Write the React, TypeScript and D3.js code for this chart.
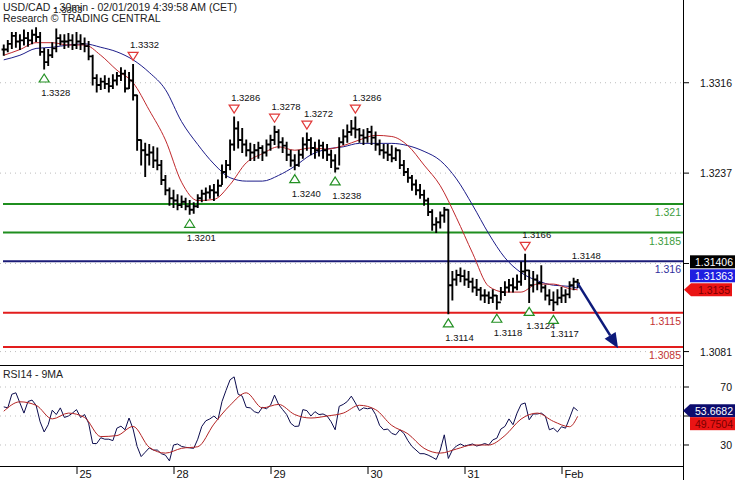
import { curveMonotoneX, line, scaleLinear } from 'd3';

const CHART_WIDTH = 735;
const CHART_HEIGHT = 480;
const PLOT_RIGHT = 683;
const MAIN = { top: 0, bottom: 365 };
const RSI_PANEL = { top: 366, bottom: 466 };
const FONT = '"Liberation Sans", Arial, sans-serif';

// hours counted from Jan 25 00:00, weekend removed (one bar per hour)
const FIRST_BAR_HOUR = -18;

const barHigh = [
  1.3349, 1.3353, 1.336, 1.336, 1.3358, 1.3362, 1.336, 1.3362, 1.3364, 1.336,
  1.3346, 1.3345, 1.3351, 1.3363, 1.3358, 1.3358, 1.3359, 1.3358, 1.336, 1.3358,
  1.3355, 1.3352, 1.334, 1.3323, 1.332, 1.3322, 1.332, 1.3323, 1.3325, 1.3329,
  1.3327, 1.3325, 1.3332, 1.3305, 1.3266, 1.3263, 1.3262, 1.326, 1.3259, 1.3248,
  1.3235, 1.3224, 1.3222, 1.3218, 1.3217, 1.3215, 1.3213, 1.3211, 1.3218, 1.3222,
  1.3224, 1.3226, 1.3227, 1.3231, 1.3244, 1.3248, 1.3266, 1.3286, 1.3282, 1.3276,
  1.3266, 1.3263, 1.3262, 1.3264, 1.3261, 1.3266, 1.327, 1.3278, 1.3275, 1.3268,
  1.3264, 1.3257, 1.3253, 1.3257, 1.3268, 1.3272, 1.3268, 1.3264, 1.3266, 1.3264,
  1.3262, 1.3257, 1.3253, 1.3268, 1.3275, 1.3279, 1.3283, 1.3286, 1.3276, 1.3275,
  1.3276, 1.3278, 1.3273, 1.3266, 1.3262, 1.3262, 1.3261, 1.3259, 1.3257, 1.3248,
  1.3241, 1.3235, 1.3231, 1.3227, 1.3222, 1.3215, 1.3205, 1.3198, 1.3203, 1.3207,
  1.3205, 1.3151, 1.3152, 1.3154, 1.3152, 1.3151, 1.3145, 1.3144, 1.3137, 1.3135,
  1.3133, 1.3135, 1.313, 1.3137, 1.3142, 1.3144, 1.3145, 1.3148, 1.3159, 1.3166,
  1.3152, 1.3151, 1.3148, 1.3156, 1.3139, 1.3135, 1.3133, 1.3135, 1.3137, 1.3135,
  1.3142, 1.3145, 1.3144,
];

const barLow = [
  1.334, 1.3343, 1.3346, 1.3347, 1.3345, 1.3349, 1.3348, 1.335, 1.3352, 1.334,
  1.3328, 1.3331, 1.3338, 1.3343, 1.3349, 1.3346, 1.3347, 1.3345, 1.3346, 1.3345,
  1.3343, 1.3336, 1.3314, 1.3308, 1.331, 1.3311, 1.3308, 1.3311, 1.3314, 1.3318,
  1.3308, 1.3311, 1.3301, 1.3257, 1.3244, 1.3234, 1.3244, 1.3242, 1.324, 1.3227,
  1.3218, 1.3209, 1.3207, 1.3205, 1.3207, 1.3205, 1.3201, 1.3202, 1.3207, 1.3212,
  1.3213, 1.3215, 1.3213, 1.3217, 1.3227, 1.3233, 1.324, 1.3257, 1.3259, 1.3255,
  1.3252, 1.3248, 1.3248, 1.325, 1.3248, 1.3252, 1.3257, 1.3262, 1.3259, 1.3255,
  1.3248, 1.3243, 1.324, 1.3243, 1.325, 1.3257, 1.3253, 1.325, 1.3252, 1.325,
  1.3248, 1.3242, 1.3238, 1.3244, 1.3262, 1.3264, 1.327, 1.3268, 1.3264, 1.3262,
  1.3264, 1.3262, 1.3257, 1.3253, 1.325, 1.3248, 1.3247, 1.3248, 1.3241, 1.3235,
  1.3229, 1.3222, 1.3218, 1.3215, 1.3209, 1.32, 1.3187, 1.3185, 1.3189, 1.3194,
  1.3114, 1.3126, 1.3139, 1.3142, 1.3139, 1.3137, 1.3133, 1.313, 1.3126, 1.3124,
  1.3123, 1.3124, 1.3118, 1.3126, 1.313, 1.3133, 1.3133, 1.3135, 1.3139, 1.3144,
  1.3124, 1.3133, 1.3135, 1.3133, 1.3126, 1.3122, 1.3117, 1.3122, 1.3124, 1.3124,
  1.3128, 1.3135, 1.3137,
];

const barClose = [
  1.3345, 1.335, 1.3357, 1.3352, 1.3353, 1.3355, 1.3353, 1.3358, 1.3356, 1.3343,
  1.3334, 1.334, 1.3346, 1.3355, 1.3352, 1.3352, 1.3353, 1.3349, 1.3352, 1.335,
  1.3348, 1.3339, 1.332, 1.3314, 1.3317, 1.3315, 1.3313, 1.3318, 1.3322, 1.3324,
  1.3311, 1.3318, 1.3305, 1.3266, 1.3257, 1.3253, 1.3255, 1.3248, 1.3244, 1.3231,
  1.3222, 1.3215, 1.3213, 1.3209, 1.3212, 1.3208, 1.3205, 1.3208, 1.3215, 1.3219,
  1.322, 1.3222, 1.322, 1.3226, 1.3238, 1.3244, 1.3262, 1.3276, 1.3266, 1.3262,
  1.3257, 1.3255, 1.3257, 1.3259, 1.3255, 1.3262, 1.3266, 1.3273, 1.3264, 1.3261,
  1.3253, 1.3248, 1.3244, 1.3253, 1.3262, 1.3266, 1.3259, 1.3257, 1.3261, 1.3257,
  1.3253, 1.3248, 1.3241, 1.3264, 1.3269, 1.3273, 1.3276, 1.3275, 1.327, 1.3268,
  1.3273, 1.3268, 1.3262, 1.3257, 1.3255, 1.3253, 1.325, 1.3257, 1.3244, 1.3238,
  1.3233, 1.3227, 1.3222, 1.3218, 1.3213, 1.3203, 1.3192, 1.3194, 1.32, 1.3205,
  1.3139, 1.3144, 1.3148, 1.3147, 1.3144, 1.3142, 1.3137, 1.3135, 1.313, 1.313,
  1.3128, 1.313, 1.3124, 1.3133, 1.3137, 1.3139, 1.3137, 1.3142, 1.3151, 1.3152,
  1.3139, 1.3144, 1.3141, 1.3137, 1.313, 1.3126, 1.3124, 1.3128, 1.313, 1.3131,
  1.3139, 1.3142, 1.31406,
];

const rsiValues = [
  56.3, 55.6, 65, 66, 59, 52, 60, 61, 57.4, 46,
  39, 44, 54, 51, 55.6, 49, 50, 52, 54.4, 49,
  51, 45, 31, 31, 35, 34, 34, 33, 41.6, 43,
  40.5, 48.6, 41, 29, 22, 25, 28, 26.5, 26.5, 24,
  23, 19, 30, 30.7, 29, 28.4, 28, 27.7, 34, 42.8,
  46.7, 48, 50, 47.4, 60, 67.7, 75, 77, 65, 63.7,
  56, 55.6, 53, 52, 56, 55, 57.4, 64.4, 58, 54.4,
  51, 45, 42.8, 43, 54.4, 53.7, 50, 53, 51, 51.4,
  50, 46, 40.5, 56.7, 58, 60, 63.7, 59, 53.7, 55.6,
  55, 55.6, 51, 43.5, 40.5, 41, 38, 37, 40.5, 38,
  33, 29, 26.5, 24, 24, 23, 21.6, 20, 26.5, 37,
  20.7, 26.5, 29.3, 30.7, 29.3, 30, 30.7, 29.3, 30, 31,
  30, 33.5, 34.7, 41, 42.8, 48, 44, 52, 58, 59,
  47.4, 51.4, 51.4, 52, 50, 40.5, 41.6, 39, 42.6, 41.6,
  48.6, 56, 53.6682,
];

const maHours = [
  -18, -14, -10, -6, -2, 2, 6, 10, 14, 18, 22, 26, 30, 34, 38, 42, 46, 50, 54,
  58, 62, 66, 70, 74, 78, 82, 86, 90, 94, 98, 102, 106, 110, 114, 118, 122, 124,
];
const fastMa = [
  1.334, 1.3345, 1.3351, 1.3351, 1.3349, 1.3349, 1.334, 1.3327, 1.3316, 1.3292,
  1.3266, 1.3229, 1.3213, 1.3214, 1.3227, 1.3246, 1.3254, 1.326, 1.3257, 1.3259,
  1.3258, 1.3261, 1.3266, 1.327, 1.3269, 1.3261, 1.3244, 1.3226, 1.3198, 1.3167,
  1.3138, 1.3133, 1.3133, 1.314, 1.314, 1.3136, 1.3135,
];
const slowMa = [
  1.3336, 1.334, 1.3346, 1.3347, 1.3349, 1.335, 1.3347, 1.3343, 1.3336, 1.3325,
  1.331, 1.3282, 1.3262, 1.3245, 1.3233, 1.323, 1.323, 1.3235, 1.3243, 1.3253,
  1.3258, 1.326, 1.3263, 1.3263, 1.3263, 1.3261, 1.3256, 1.3248, 1.3232, 1.3209,
  1.3184, 1.3163, 1.315, 1.3143, 1.3139, 1.3138, 1.31363,
];
const rsiMa = [
  53.3, 59.8, 57.4, 48, 52, 49, 35.8, 36.5, 42.8, 28.4,
  24.4, 27.7, 28.8, 44.4, 57.4, 66, 55.6, 58, 51, 48.6,
  50, 52, 57.4, 54.4, 43.5, 37.7, 27.7, 24.4, 27.2, 30,
  30, 36.5, 47.9, 52, 46.3, 42.6, 49.7504,
];

const dayHours = [0, 24, 48, 72, 96, 120];
const dayLabels = ['25', '28', '29', '30', '31', 'Feb'];

// the 1.3158 and 50 labels sit under the value boxes in the reference
const priceTicks = [1.3316, 1.3237, 1.3158, 1.3081];
const priceTickLabels = ['1.3316', '1.3237', '', '1.3081'];
const rsiTicks = [70, 50, 30];
const rsiTickLabels = ['70', '', '30'];

const levelPrices = [1.321, 1.3185, 1.316, 1.3115, 1.3085];
const levelKinds = ['resistance', 'resistance', 'pivot', 'support', 'support'];

const pivotHours = [-8, -5, 14, 28, 39, 49, 54, 57, 64, 69, 92, 104, 111, 112, 118, 123.3];
const pivotPrices = [
  1.3328, 1.3363, 1.3332, 1.3201, 1.3286, 1.3278, 1.324, 1.3272, 1.3238, 1.3286,
  1.3114, 1.3118, 1.3166, 1.3124, 1.3117, 1.3148,
];
const pivotKinds = [
  'low', 'text', 'high', 'low', 'high', 'high', 'low', 'high', 'low', 'high',
  'low', 'low', 'high', 'low', 'low', 'text',
];

const targetHour = 134;
const targetPrice = 1.3084;

const LEVEL_STYLE: Record<string, { line: string; text: string }> = {
  resistance: { line: '#1f8e1f', text: '#3c9c3c' },
  pivot: { line: '#1c1c78', text: '#30309c' },
  support: { line: '#e21d1d', text: '#c23434' },
};

const xScale = scaleLinear().domain([0, 120]).range([76.5, 561.5]);
const yPrice = scaleLinear().domain([1.306927, 1.338832]).range([MAIN.bottom, MAIN.top]);
const yRsi = scaleLinear().domain([15.5, 84.5]).range([RSI_PANEL.bottom, RSI_PANEL.top]);

function barsPath() {
  let d = '';
  barClose.forEach((close, i) => {
    const x = xScale(FIRST_BAR_HOUR + i);
    const open = i === 0 ? close : barClose[i - 1];
    d += `M${x},${yPrice(barHigh[i]) - 0.5}V${yPrice(barLow[i]) + 0.5}`;
    d += `M${x - 2.2},${yPrice(open)}H${x}`;
    d += `M${x},${yPrice(close)}H${x + 2.2}`;
  });
  return d;
}

export default function App() {
  const maLine = (values: number[], scale: (v: number) => number) =>
    line<number>()
      .x((_, i) => xScale(maHours[i]))
      .y((v) => scale(v))
      .curve(curveMonotoneX)(values) ?? '';

  const rsiLine =
    line<number>()
      .x((_, i) => xScale(FIRST_BAR_HOUR + i))
      .y((v) => yRsi(v))(rsiValues) ?? '';

  const lastHour = FIRST_BAR_HOUR + barClose.length - 1;
  const lastClose = barClose[barClose.length - 1];
  const arrowX1 = xScale(lastHour);
  const arrowY1 = yPrice(lastClose);
  const arrowX2 = xScale(targetHour);
  const arrowY2 = yPrice(targetPrice);
  const angle = Math.atan2(arrowY2 - arrowY1, arrowX2 - arrowX1);
  const headLen = 15;
  const headHalf = 6.5;
  const baseX = arrowX2 - headLen * Math.cos(angle);
  const baseY = arrowY2 - headLen * Math.sin(angle);
  const head = [
    [arrowX2, arrowY2],
    [baseX + headHalf * Math.sin(angle), baseY - headHalf * Math.cos(angle)],
    [baseX - headHalf * Math.sin(angle), baseY + headHalf * Math.cos(angle)],
  ];

  // stacked value boxes on the price axis
  const fastLast = fastMa[fastMa.length - 1];
  const slowLast = slowMa[slowMa.length - 1];
  const redCy = yPrice(fastLast);
  const blueCy = redCy - 14;
  const blackCy = blueCy - 14;

  const rsiLast = rsiValues[rsiValues.length - 1];
  const rsiMaLast = rsiMa[rsiMa.length - 1];
  const navyCy = yRsi(rsiLast);
  const rsiRedCy = navyCy + 13;

  return (
    <div style={{ position: 'absolute', left: 0, top: 0 }}>
      <svg width={CHART_WIDTH} height={CHART_HEIGHT} style={{ display: 'block', background: '#fff' }} fontFamily={FONT}>
        <rect width={CHART_WIDTH} height={CHART_HEIGHT} fill="#fff" />

        {/* grid */}
        {priceTicks.map((p) => (
          <line key={`pg-${p}`} x1={0} x2={PLOT_RIGHT} y1={yPrice(p)} y2={yPrice(p)} stroke="#bdbdbd" strokeDasharray="1 4" />
        ))}
        {rsiTicks.map((v) => (
          <line key={`rg-${v}`} x1={0} x2={PLOT_RIGHT} y1={yRsi(v)} y2={yRsi(v)} stroke="#bdbdbd" strokeDasharray="1 4" />
        ))}

        {/* horizontal levels */}
        {levelPrices.map((p, i) => (
          <g key={`lv-${p}`}>
            <line x1={3} x2={PLOT_RIGHT} y1={yPrice(p)} y2={yPrice(p)} stroke={LEVEL_STYLE[levelKinds[i]].line} strokeWidth={2} />
            <text x={681} y={yPrice(p) + 12} textAnchor="end" fontSize={10.5} fill={LEVEL_STYLE[levelKinds[i]].text}>
              {String(p)}
            </text>
          </g>
        ))}

        {/* moving averages */}
        <path d={maLine(slowMa, yPrice)} fill="none" stroke="#1d1d8a" strokeWidth={1} />
        <path d={maLine(fastMa, yPrice)} fill="none" stroke="#c0282c" strokeWidth={1} />

        {/* bars */}
        <path d={barsPath()} fill="none" stroke="#000" strokeWidth={1.9} />

        {/* pivots */}
        {pivotHours.map((h, i) => {
          const x = xScale(h);
          const y = yPrice(pivotPrices[i]);
          const kind = pivotKinds[i];
          const label = pivotPrices[i].toFixed(4);
          if (kind === 'low') {
            return (
              <g key={`pv-${i}`}>
                <path d={`M${x},${y + 5}L${x + 5},${y + 13}L${x - 5},${y + 13}Z`} fill="#fff" stroke="#239023" strokeWidth={1.2} />
                <text x={x - 3} y={y + 27} fontSize={9.5} fill="#111">{label}</text>
              </g>
            );
          }
          if (kind === 'high') {
            return (
              <g key={`pv-${i}`}>
                <path d={`M${x - 5},${y - 12}L${x + 5},${y - 12}L${x},${y - 4}Z`} fill="#fff" stroke="#e03838" strokeWidth={1.2} />
                <text x={x - 3} y={y - 16} fontSize={9.5} fill="#111">{label}</text>
              </g>
            );
          }
          return (
            <text key={`pv-${i}`} x={x - 3} y={y - 16} fontSize={9.5} fill="#111">{label}</text>
          );
        })}

        {/* projection arrow */}
        <line x1={arrowX1} y1={arrowY1} x2={baseX} y2={baseY} stroke="#0d1a7a" strokeWidth={2.5} />
        <polygon points={head.map((p) => p.join(',')).join(' ')} fill="#0d1a7a" />

        {/* header */}
        <text x={3} y={11} fontSize={10.5} fill="#222">USD/CAD - 30min - 02/01/2019 4:39:58 AM (CET)</text>
        <text x={3} y={22} fontSize={10.5} fill="#222">Research © TRADING CENTRAL</text>

        {/* RSI panel */}
        <path d={rsiLine} fill="none" stroke="#0c0c4e" strokeWidth={1} />
        <path d={maLine(rsiMa, yRsi)} fill="none" stroke="#b42424" strokeWidth={1} />
        <text x={3} y={378} fontSize={10.5} fill="#222">RSI14 - 9MA</text>

        {/* frame */}
        <line x1={PLOT_RIGHT + 0.5} x2={PLOT_RIGHT + 0.5} y1={0} y2={CHART_HEIGHT} stroke="#000" />
        <line x1={0} x2={PLOT_RIGHT} y1={MAIN.bottom + 0.5} y2={MAIN.bottom + 0.5} stroke="#000" />
        <line x1={0} x2={PLOT_RIGHT} y1={RSI_PANEL.bottom + 0.5} y2={RSI_PANEL.bottom + 0.5} stroke="#000" />

        {/* price axis */}
        {priceTicks.map((p, i) => (
          <g key={`pt-${p}`}>
            <line x1={PLOT_RIGHT} x2={PLOT_RIGHT + 6} y1={yPrice(p)} y2={yPrice(p)} stroke="#000" />
            {priceTickLabels[i] && (
              <text x={732} y={yPrice(p) + 4} textAnchor="end" fontSize={10.5} fill="#111">{priceTickLabels[i]}</text>
            )}
          </g>
        ))}
        {rsiTicks.map((v, i) => (
          <g key={`rt-${v}`}>
            <line x1={PLOT_RIGHT} x2={PLOT_RIGHT + 6} y1={yRsi(v)} y2={yRsi(v)} stroke="#000" />
            {rsiTickLabels[i] && (
              <text x={732} y={yRsi(v) + 4} textAnchor="end" fontSize={10.5} fill="#111">{rsiTickLabels[i]}</text>
            )}
          </g>
        ))}

        {/* value boxes */}
        <rect x={690} y={blackCy - 6.5} width={45} height={13} fill="#000" />
        <text x={733} y={blackCy + 4} textAnchor="end" fontSize={10.5} fill="#fff">{String(lastClose)}</text>
        <rect x={690} y={blueCy - 6.5} width={45} height={13} fill="#1e1ee0" />
        <text x={733} y={blueCy + 4} textAnchor="end" fontSize={10.5} fill="#fff">{String(slowLast)}</text>
        <path d={`M684,${redCy}L691,${redCy - 6.5}H732V${redCy + 6.5}H691Z`} fill="#ea1414" />
        <text x={730} y={redCy + 4} textAnchor="end" fontSize={10.5} fill="#7a0000">{String(fastLast)}</text>

        <path d={`M683,${navyCy}L690,${navyCy - 6.5}H735V${navyCy + 6.5}H690Z`} fill="#0c0c6e" />
        <text x={733} y={navyCy + 4} textAnchor="end" fontSize={10.5} fill="#fff">{String(rsiLast)}</text>
        <rect x={690} y={rsiRedCy - 6.5} width={45} height={13} fill="#ea1414" />
        <text x={733} y={rsiRedCy + 4} textAnchor="end" fontSize={10.5} fill="#7a0000">{String(rsiMaLast)}</text>

        {/* date axis */}
        {dayHours.map((h, i) => (
          <g key={`d-${h}`}>
            <line x1={xScale(h) + 0.5} x2={xScale(h) + 0.5} y1={RSI_PANEL.bottom} y2={RSI_PANEL.bottom + 8} stroke="#000" />
            <text x={xScale(h) + 3} y={478} fontSize={11} fill="#111">{dayLabels[i]}</text>
          </g>
        ))}
      </svg>
    </div>
  );
}
